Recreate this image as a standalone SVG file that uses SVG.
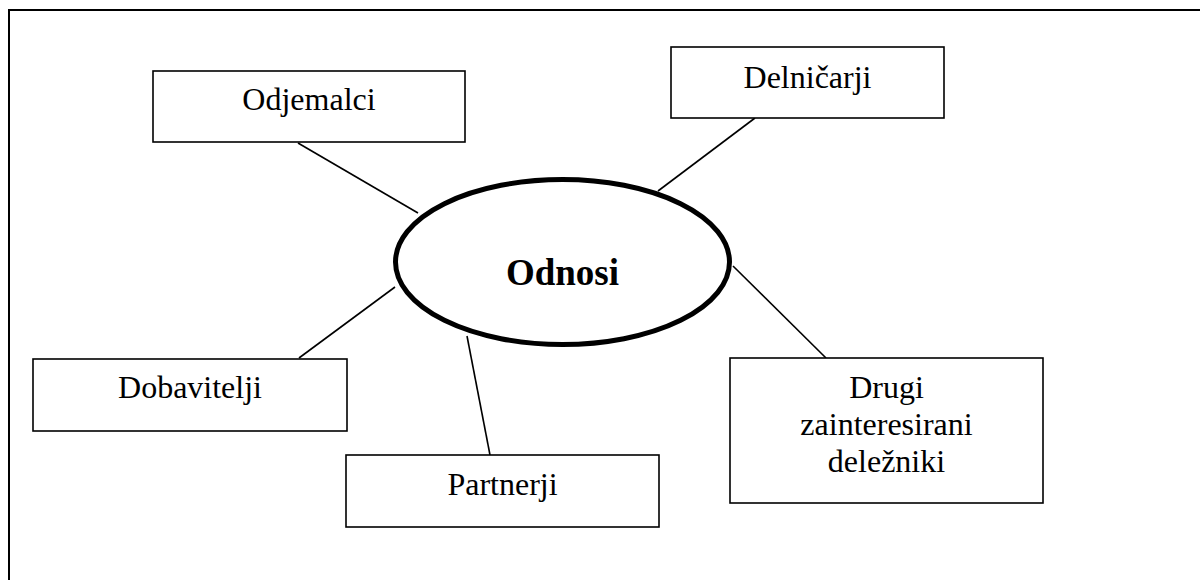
<svg xmlns="http://www.w3.org/2000/svg" width="1200" height="580" viewBox="0 0 1200 580">
<style>
.box{fill:#fff;stroke:#000;stroke-width:1.6}
.lbl{font-family:"Liberation Serif","Times New Roman",serif;font-size:32px;fill:#000;text-anchor:middle}
.conn line{stroke:#000;stroke-width:1.6}
</style>
<rect x="0" y="0" width="1200" height="580" fill="#fff"/>
<rect id="frame" x="9" y="10" width="1400" height="800" fill="none" stroke="#000" stroke-width="2"/>
<g class="conn" id="connectors">
<line x1="298" y1="143" x2="418" y2="213"/>
<line x1="755" y1="118" x2="658" y2="191"/>
<line x1="299" y1="358" x2="395" y2="287"/>
<line x1="490" y1="455" x2="467" y2="336"/>
<line x1="826" y1="358" x2="733" y2="266"/>
</g>
<g id="odnosi">
<ellipse cx="562.5" cy="262" rx="167" ry="82.5" fill="#fff" stroke="#000" stroke-width="5"/>
<text x="562.5" y="285" class="lbl" style="font-weight:bold;font-size:37px">Odnosi</text>
</g>
<g id="odjemalci">
<rect class="box" x="153" y="71" width="312" height="71"/>
<text class="lbl" x="309" y="110">Odjemalci</text>
</g>
<g id="delnicarji">
<rect class="box" x="671" y="47" width="273" height="71"/>
<text class="lbl" x="807.5" y="88">Delničarji</text>
</g>
<g id="dobavitelji">
<rect class="box" x="33" y="359" width="314" height="72"/>
<text class="lbl" x="190" y="398">Dobavitelji</text>
</g>
<g id="partnerji">
<rect class="box" x="346" y="455" width="313" height="72"/>
<text class="lbl" x="502.5" y="495">Partnerji</text>
</g>
<g id="drugi">
<rect class="box" x="730" y="358" width="313" height="145"/>
<text class="lbl" x="886.5" y="398">Drugi</text>
<text class="lbl" x="886.5" y="435">zainteresirani</text>
<text class="lbl" x="886.5" y="472">deležniki</text>
</g>
</svg>
